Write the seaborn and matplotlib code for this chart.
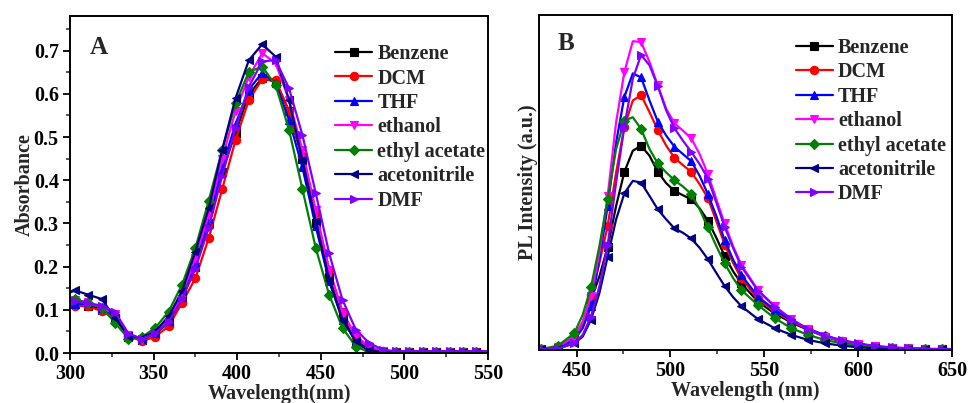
'''
Absorption (A) and photoluminescence (B) spectra of the dye
recorded in seven solvents of different polarity.
'''

import matplotlib
matplotlib.use("Agg")
import matplotlib.pyplot as plt
from matplotlib.ticker import MultipleLocator, FormatStrFormatter
import seaborn as sns

#######################################################
### Data

SOLVENTS = [
    "Benzene", "DCM", "THF", "ethanol",
    "ethyl acetate", "acetonitrile", "DMF"
]

COLORS = {
    "Benzene": "#000000",
    "DCM": "#ff0000",
    "THF": "#0000ff",
    "ethanol": "#ff00ff",
    "ethyl acetate": "#008000",
    "acetonitrile": "#000080",
    "DMF": "#8000ff",
}

MARKERS = {
    "Benzene": "s",
    "DCM": "o",
    "THF": "^",
    "ethanol": "v",
    "ethyl acetate": "D",
    "acetonitrile": "<",
    "DMF": ">",
}

# Panel A, absorbance
ABS_WAVELENGTH = [
    300, 303, 311, 319, 327, 335, 343, 351, 359, 367, 375, 383, 391,
    399, 407, 415, 423, 431, 439, 447, 455, 463, 471, 479, 487,
    495, 503, 511, 519, 527, 535, 543, 550
]

ABS_BENZENE = [
    0.115, 0.115, 0.110, 0.100, 0.080, 0.038, 0.030, 0.045, 0.070, 0.125,
    0.200, 0.300, 0.420, 0.510, 0.600, 0.636, 0.628, 0.560, 0.450, 0.300,
    0.177, 0.085, 0.023, 0.006, 0.003, 0.003, 0.003, 0.003, 0.003, 0.003,
    0.003, 0.003, 0.003
]
ABS_DCM = [
    0.110, 0.110, 0.108, 0.097, 0.085, 0.040, 0.027, 0.038, 0.062, 0.116,
    0.173, 0.266, 0.379, 0.493, 0.586, 0.634, 0.632, 0.560, 0.455, 0.324,
    0.193, 0.096, 0.035, 0.012, 0.005, 0.003, 0.003, 0.003, 0.003, 0.003,
    0.003, 0.003, 0.003
]
ABS_THF = [
    0.110, 0.113, 0.115, 0.105, 0.085, 0.040, 0.032, 0.046, 0.075, 0.130,
    0.210, 0.310, 0.430, 0.530, 0.610, 0.649, 0.625, 0.540, 0.430, 0.293,
    0.166, 0.077, 0.027, 0.008, 0.004, 0.003, 0.003, 0.003, 0.003, 0.003,
    0.003, 0.003, 0.003
]
ABS_ETHANOL = [
    0.120, 0.122, 0.118, 0.105, 0.090, 0.042, 0.030, 0.048, 0.078, 0.135,
    0.220, 0.320, 0.450, 0.560, 0.640, 0.694, 0.671, 0.586, 0.470, 0.330,
    0.193, 0.093, 0.039, 0.015, 0.005, 0.003, 0.003, 0.003, 0.003, 0.003,
    0.003, 0.003, 0.003
]
ABS_ETHYL_ACETATE = [
    0.125, 0.125, 0.115, 0.105, 0.070, 0.033, 0.037, 0.058, 0.096, 0.158,
    0.243, 0.353, 0.470, 0.578, 0.651, 0.663, 0.620, 0.517, 0.380, 0.243,
    0.135, 0.058, 0.015, 0.002, 0.002, 0.002, 0.002, 0.002, 0.002, 0.002,
    0.002, 0.002, 0.002
]
ABS_ACETONITRILE = [
    0.140, 0.145, 0.135, 0.125, 0.081, 0.040, 0.035, 0.050, 0.085, 0.143,
    0.235, 0.335, 0.470, 0.590, 0.678, 0.715, 0.686, 0.586, 0.447, 0.305,
    0.170, 0.077, 0.027, 0.006, 0.003, 0.003, 0.003, 0.003, 0.003, 0.003,
    0.003, 0.003, 0.003
]
ABS_DMF = [
    0.118, 0.120, 0.115, 0.110, 0.095, 0.045, 0.033, 0.046, 0.072, 0.125,
    0.195, 0.290, 0.410, 0.520, 0.617, 0.675, 0.678, 0.613, 0.505, 0.370,
    0.231, 0.123, 0.054, 0.023, 0.008, 0.004, 0.004, 0.004, 0.004, 0.004,
    0.004, 0.004, 0.004
]

# Panel B, PL intensity (a.u.)
PL_WAVELENGTH = [
    431.0, 439.9, 448.8, 453.3, 457.7, 462.2, 466.6, 471.1, 475.5, 480.0,
    484.4, 488.9, 493.3, 497.8, 502.2, 506.7, 511.1, 515.6, 520.0, 524.5,
    528.9, 533.4, 537.8, 546.7, 555.6, 564.5, 573.4, 582.3, 591.2, 600.1,
    609.0, 617.9, 626.8, 635.7, 644.6, 650.0
]

PL_BENZENE = [
    0.003, 0.006, 0.040, 0.080, 0.149, 0.220, 0.308, 0.430, 0.532, 0.595,
    0.610, 0.580, 0.532, 0.498, 0.475, 0.462, 0.450, 0.423, 0.386, 0.335,
    0.281, 0.235, 0.199, 0.144, 0.109, 0.082, 0.060, 0.040, 0.025, 0.015,
    0.008, 0.005, 0.004, 0.003, 0.002, 0.002
]
PL_DCM = [
    0.002, 0.008, 0.035, 0.080, 0.164, 0.260, 0.371, 0.530, 0.667, 0.745,
    0.761, 0.710, 0.657, 0.610, 0.574, 0.552, 0.532, 0.495, 0.453, 0.385,
    0.315, 0.260, 0.214, 0.152, 0.115, 0.085, 0.062, 0.042, 0.027, 0.017,
    0.010, 0.006, 0.004, 0.003, 0.002, 0.002
]
PL_THF = [
    0.002, 0.006, 0.030, 0.065, 0.130, 0.270, 0.430, 0.620, 0.756, 0.826,
    0.814, 0.745, 0.682, 0.640, 0.607, 0.585, 0.564, 0.520, 0.465, 0.400,
    0.328, 0.270, 0.224, 0.159, 0.120, 0.088, 0.064, 0.044, 0.028, 0.018,
    0.011, 0.007, 0.005, 0.003, 0.002, 0.002
]
PL_ETHANOL = [
    0.002, 0.008, 0.040, 0.085, 0.160, 0.290, 0.460, 0.680, 0.830, 0.922,
    0.920, 0.860, 0.790, 0.720, 0.677, 0.655, 0.632, 0.585, 0.525, 0.450,
    0.378, 0.310, 0.254, 0.179, 0.131, 0.092, 0.062, 0.040, 0.028, 0.018,
    0.011, 0.007, 0.005, 0.003, 0.002, 0.002
]
PL_ETHYL_ACETATE = [
    0.003, 0.012, 0.050, 0.105, 0.187, 0.310, 0.450, 0.600, 0.685, 0.695,
    0.660, 0.600, 0.557, 0.530, 0.507, 0.488, 0.466, 0.420, 0.366, 0.310,
    0.259, 0.215, 0.179, 0.134, 0.095, 0.065, 0.045, 0.030, 0.020, 0.012,
    0.007, 0.005, 0.003, 0.002, 0.002, 0.002
]
PL_ACETONITRILE = [
    0.002, 0.004, 0.020, 0.040, 0.090, 0.170, 0.279, 0.390, 0.468, 0.505,
    0.500, 0.460, 0.420, 0.390, 0.363, 0.350, 0.333, 0.305, 0.271, 0.230,
    0.191, 0.158, 0.131, 0.092, 0.065, 0.045, 0.030, 0.020, 0.013, 0.008,
    0.005, 0.003, 0.002, 0.002, 0.002, 0.002
]
PL_DMF = [
    0.002, 0.004, 0.020, 0.045, 0.100, 0.190, 0.313, 0.500, 0.667, 0.810,
    0.881, 0.850, 0.788, 0.715, 0.662, 0.625, 0.592, 0.555, 0.512, 0.440,
    0.368, 0.305, 0.249, 0.177, 0.129, 0.092, 0.062, 0.042, 0.030, 0.020,
    0.012, 0.008, 0.005, 0.004, 0.003, 0.003
]

ABSORBANCE = {
    "Benzene": ABS_BENZENE,
    "DCM": ABS_DCM,
    "THF": ABS_THF,
    "ethanol": ABS_ETHANOL,
    "ethyl acetate": ABS_ETHYL_ACETATE,
    "acetonitrile": ABS_ACETONITRILE,
    "DMF": ABS_DMF,
}

PL_INTENSITY = {
    "Benzene": PL_BENZENE,
    "DCM": PL_DCM,
    "THF": PL_THF,
    "ethanol": PL_ETHANOL,
    "ethyl acetate": PL_ETHYL_ACETATE,
    "acetonitrile": PL_ACETONITRILE,
    "DMF": PL_DMF,
}

FONT = ["Liberation Serif", "DejaVu Serif"]
FONT_SIZE = 14.5


#######################################################
### 1. Style

def set_style():

    sns.set_style("ticks")

    plt.rcParams["font.family"] = FONT
    plt.rcParams["font.weight"] = "bold"
    plt.rcParams["axes.labelweight"] = "bold"
    plt.rcParams["axes.linewidth"] = 1.4


#######################################################
### 2. Draw one panel

def draw_spectra(ax, wavelength, series, markevery):

    for name in SOLVENTS:

        ms = 5 if MARKERS[name] == "D" else 6

        sns.lineplot(
            x=wavelength,
            y=series[name],
            ax=ax,
            color=COLORS[name],
            marker=MARKERS[name],
            markersize=ms,
            markeredgecolor=COLORS[name],
            markeredgewidth=0.8,
            linewidth=1.6,
            markevery=markevery,
            estimator=None,
            sort=False,
            label=name
        )

    for side in ["top", "right", "left", "bottom"]:

        ax.spines[side].set_visible(True)
        ax.spines[side].set_linewidth(1.4)
        ax.spines[side].set_color("black")


def style_legend(ax, anchor):

    ax.legend(
        loc="upper left",
        bbox_to_anchor=anchor,
        frameon=False,
        borderaxespad=0,
        borderpad=0,
        handlelength=1.85,
        handletextpad=0.25,
        labelspacing=0.22,
        prop={"family": FONT, "weight": "bold", "size": FONT_SIZE}
    )


def style_ticks(ax):

    ax.tick_params(
        which="major",
        direction="out",
        length=5,
        width=1.3,
        pad=3,
        labelsize=FONT_SIZE,
        colors="black"
    )

    ax.tick_params(
        which="minor",
        direction="out",
        length=3,
        width=1.1
    )

    for lab in ax.get_xticklabels() + ax.get_yticklabels():

        lab.set_fontweight("bold")


#######################################################
### MAIN

if __name__ == "__main__":

    set_style()

    fig = plt.figure(figsize=(9.69, 4.03), dpi=100)

    ### Panel A

    ax_a = fig.add_axes([0.0722, 0.124, 0.4314, 0.836])

    draw_spectra(
        ax_a,
        ABS_WAVELENGTH,
        ABSORBANCE,
        list(range(1, len(ABS_WAVELENGTH) - 1))
    )

    ax_a.set_xlim(300, 550)
    ax_a.set_ylim(0, 0.78)

    ax_a.xaxis.set_major_locator(MultipleLocator(50))
    ax_a.xaxis.set_minor_locator(MultipleLocator(25))
    ax_a.yaxis.set_major_locator(MultipleLocator(0.1))
    ax_a.yaxis.set_minor_locator(MultipleLocator(0.05))
    ax_a.yaxis.set_major_formatter(FormatStrFormatter("%.1f"))

    style_ticks(ax_a)

    ax_a.set_xlabel("Wavelength(nm)", fontsize=FONT_SIZE, labelpad=0)
    ax_a.set_ylabel("Absorbance", fontsize=FONT_SIZE, labelpad=-1)

    ax_a.text(
        0.048, 0.94, "A",
        transform=ax_a.transAxes,
        fontsize=18,
        fontweight="bold",
        va="top"
    )

    style_legend(ax_a, (0.634, 0.917))

    ### Panel B

    ax_b = fig.add_axes([0.5562, 0.1315, 0.4262, 0.831])

    # half-step points near the peak carry no marker
    pl_marks = [
        i for i in range(len(PL_WAVELENGTH) - 1)
        if not (3 <= i <= 21 and i % 2 == 1)
    ]

    draw_spectra(ax_b, PL_WAVELENGTH, PL_INTENSITY, pl_marks)

    ax_b.set_xlim(430, 650)
    ax_b.set_ylim(0, 1.0)

    ax_b.xaxis.set_major_locator(MultipleLocator(50))
    ax_b.xaxis.set_minor_locator(MultipleLocator(25))
    ax_b.set_yticks([])

    style_ticks(ax_b)

    ax_b.set_xlabel("Wavelength (nm)", fontsize=FONT_SIZE, labelpad=0)
    ax_b.set_ylabel("PL Intensity (a.u.)", fontsize=FONT_SIZE, labelpad=1)

    ax_b.text(
        0.046, 0.95, "B",
        transform=ax_b.transAxes,
        fontsize=18,
        fontweight="bold",
        va="top"
    )

    style_legend(ax_b, (0.622, 0.932))

    fig.savefig("out.png", dpi=100)
